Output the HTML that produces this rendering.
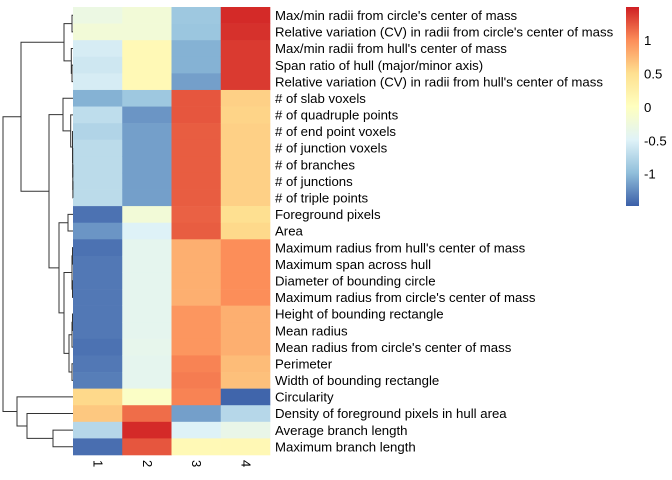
<!DOCTYPE html>
<html><head><meta charset="utf-8"><style>
html,body{margin:0;padding:0;background:#fff;}
svg{display:block;font-family:"Liberation Sans",sans-serif;}
</style></head><body>
<svg id="chart" width="672" height="480" xmlns="http://www.w3.org/2000/svg">
<g id="cells"></g>
<g id="dendro"></g>
<g id="rowlabels"></g>
<g id="collabels"></g>
<g id="legend"></g>
</svg>
<script>
const rowLabels = ["Max/min radii from circle's center of mass","Relative variation (CV) in radii from circle's center of mass","Max/min radii from hull's center of mass","Span ratio of hull (major/minor axis)","Relative variation (CV) in radii from hull's center of mass","# of slab voxels","# of quadruple points","# of end point voxels","# of junction voxels","# of branches","# of junctions","# of triple points","Foreground pixels","Area","Maximum radius from hull's center of mass","Maximum span across hull","Diameter of bounding circle","Maximum radius from circle's center of mass","Height of bounding rectangle","Mean radius","Mean radius from circle's center of mass","Perimeter","Width of bounding rectangle","Circularity","Density of foreground pixels in hull area","Average branch length","Maximum branch length"];
const colLabels = ["1","2","3","4"];
const col1 = [-0.3,-0.2,-0.55,-0.6,-0.55,-1.05,-0.7,-0.78,-0.72,-0.72,-0.72,-0.72,-1.38,-1.2,-1.38,-1.35,-1.35,-1.35,-1.35,-1.35,-1.38,-1.35,-1.32,0.55,0.65,-0.75,-1.4];
const col2 = [-0.2,-0.2,0.1,0.1,0.1,-0.9,-1.2,-1.15,-1.15,-1.15,-1.15,-1.15,-0.2,-0.5,-0.4,-0.4,-0.4,-0.4,-0.4,-0.4,-0.38,-0.4,-0.4,-0.05,1.15,1.45,1.25];
const col3 = [-0.9,-0.92,-1.05,-1.05,-1.15,1.25,1.25,1.22,1.22,1.22,1.22,1.22,1.2,1.22,0.8,0.8,0.8,0.8,0.95,0.95,0.95,1.05,1.08,1.05,-1.15,-0.5,0.1];
const col4 = [1.45,1.42,1.38,1.38,1.38,0.6,0.58,0.6,0.6,0.6,0.6,0.6,0.5,0.55,1.0,1.0,1.0,1.0,0.8,0.8,0.8,0.72,0.7,-1.45,-0.75,-0.35,0.12];
const legendTicks = [1,0.5,0,-0.5,-1];
const tree = [7.0,
  [5.2,
    [0.9,[0.1,0,1],[0.17,2,[0.1,3,4]]],
    [2.4,
      [1.0,5,[0.23,6,[0.05,7,[0.03,8,[0.02,9,[0.01,10,11]]]]]],
      [1.4,[0.5,12,13],[0.9,[0.1,[0.05,14,15],[0.05,16,17]],[0.4,[0.1,[0.05,18,19],20],[0.1,21,22]]]]]],
  [5.6,23,[4.6,24,[2.0,25,26]]]];

const NS="http://www.w3.org/2000/svg";
const leftX=73,topY=7,cw=49.25,rh=448/27;
const vmin=-1.48,vmax=1.5;
const stops=["#3B5FA8","#91BFDB","#E0F3F8","#FFFFBF","#FEE090","#FC8D59","#CF1F23"];
function hex(c){return [1,3,5].map(i=>parseInt(c.substr(i,2),16));}
function color(v){let t=(v-vmin)/(vmax-vmin);t=Math.max(0,Math.min(1,t))*(stops.length-1);
  const i=Math.min(Math.floor(t),stops.length-2),f=t-i;const a=hex(stops[i]),b=hex(stops[i+1]);
  return "rgb("+a.map((x,k)=>Math.round(x+(b[k]-x)*f)).join(",")+")";}
const xCol=j=>leftX+j*cw, yRow=i=>topY+i*rh;
const xH=h=>73-h*10;
function mk(tag,attrs,parent){const e=document.createElementNS(NS,tag);for(const k in attrs)e.setAttribute(k,attrs[k]);parent.appendChild(e);return e;}
const cols=[col1,col2,col3,col4];
const gc=document.getElementById('cells');
cols.forEach((col,j)=>col.forEach((v,i)=>{
  const r=mk('rect',{x:xCol(j),y:yRow(i),width:cw+0.3,height:rh+0.3,fill:color(v)},gc);
  
  
}));
const gr=document.getElementById('rowlabels');
rowLabels.forEach((t,i)=>{
  const e=mk('text',{x:275,y:yRow(i)+rh/2+4.7,'font-size':13.2,fill:'#000'},gr);e.textContent=t;
  
  
});
const gcl=document.getElementById('collabels');
colLabels.forEach((t,j)=>{
  const x=xCol(j)+cw/2-4,y=460;
  const e=mk('text',{x:x,y:y,'font-size':13,transform:`rotate(90 ${x} ${y})`},gcl);e.textContent=t;
  
  
});
const gd=document.getElementById('dendro');
function draw(n){
  if(typeof n==='number')return {x:leftX,y:yRow(n)+rh/2};
  const a=draw(n[1]),b=draw(n[2]),x=xH(n[0]);
  const p=mk('path',{d:`M${a.x},${a.y}H${x}V${b.y}H${b.x}`,fill:'none',stroke:'#333','stroke-width':1},gd);
  
  
  return {x:x,y:(a.y+b.y)/2};
}
draw(tree);
const gl=document.getElementById('legend');
const defs=mk('defs',{},gl);
const lg=mk('linearGradient',{id:'lg',x1:0,y1:1,x2:0,y2:0},defs);
stops.forEach((c,i)=>mk('stop',{offset:i/(stops.length-1),'stop-color':c},lg));
const lTop=7,lBot=206,ly=v=>lBot-(v-vmin)/(vmax-vmin)*(lBot-lTop);
const bar=mk('rect',{x:626,y:lTop,width:13,height:lBot-lTop,fill:'url(#lg)'},gl);


legendTicks.forEach(v=>{
  const e=mk('text',{x:644,y:ly(v)+4.7,'font-size':13.2},gl);e.textContent=String(v);
  
  
});
</script>
</body></html>
